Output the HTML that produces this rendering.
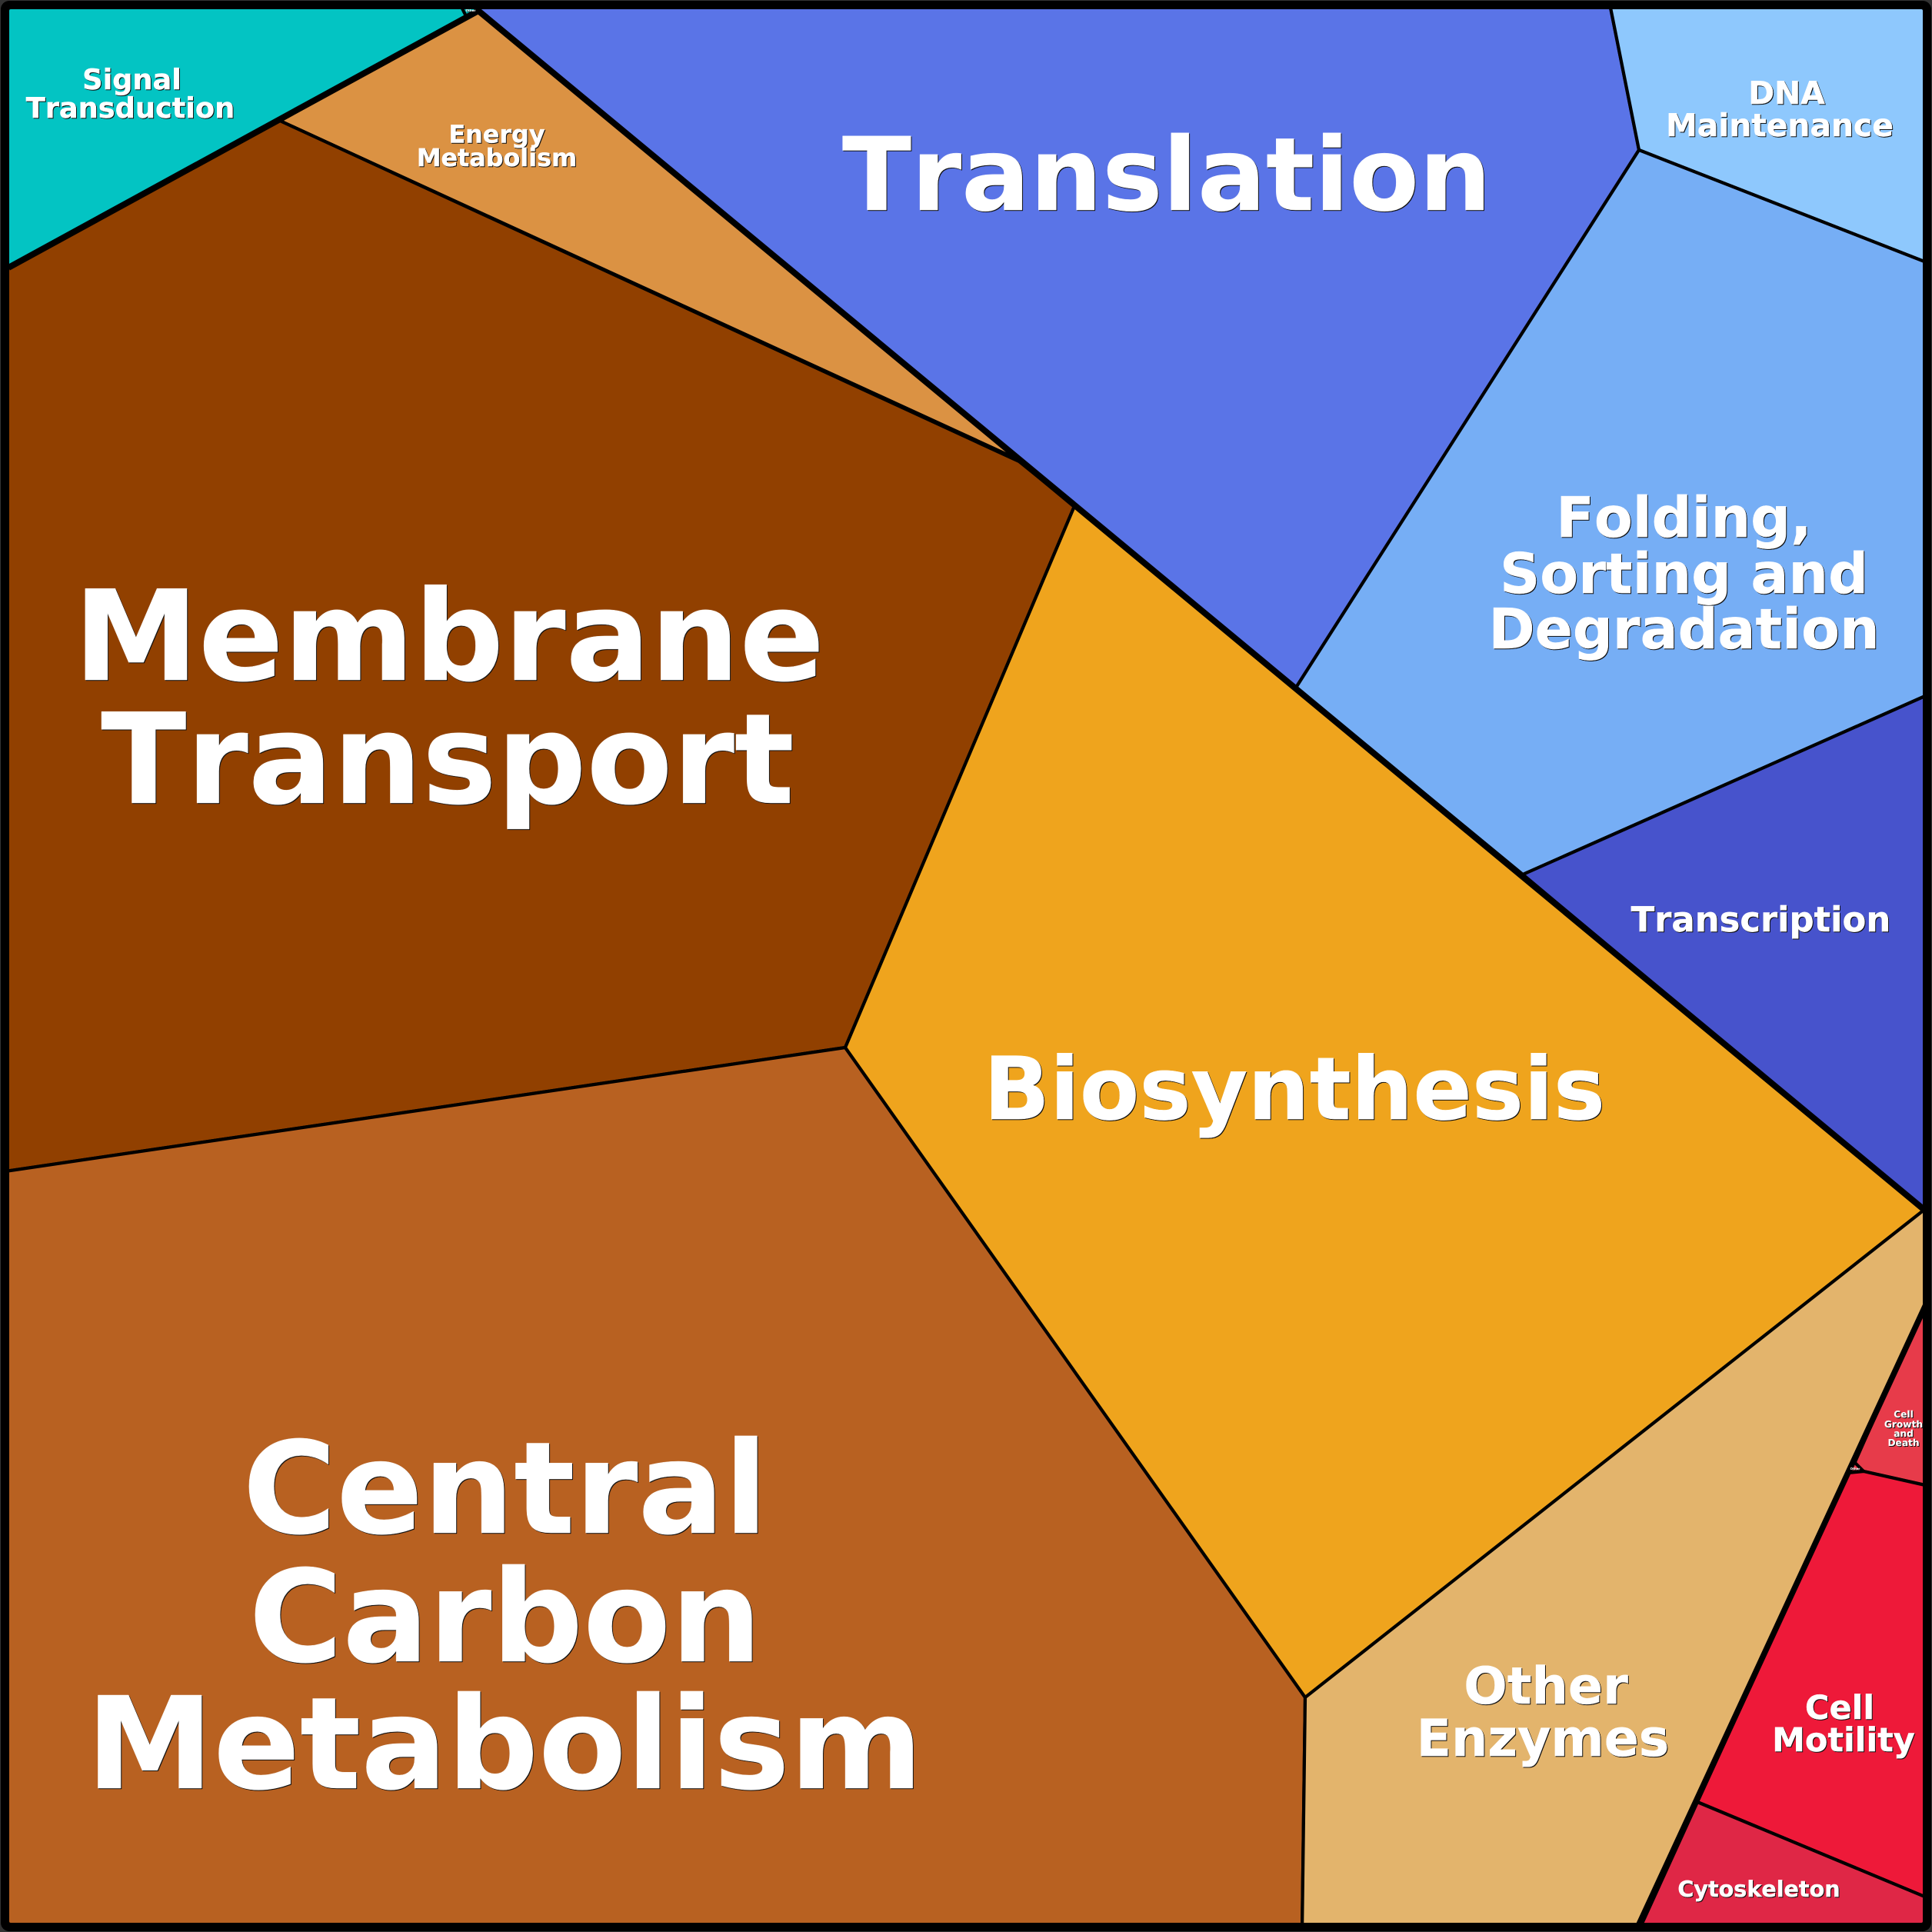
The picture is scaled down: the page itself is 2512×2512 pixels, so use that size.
<!DOCTYPE html>
<html><head><meta charset="utf-8"><style>
html,body{margin:0;padding:0;background:#333}
svg{display:block}
text{font-family:"DejaVu Sans","Liberation Sans",sans-serif;font-weight:bold;fill:#fff;text-anchor:middle;font-kerning:none;text-rendering:geometricPrecision;stroke:#fff;stroke-width:.4}
.t{filter:drop-shadow(1.5px 1.5px 0 #111)}
</style></head><body>
<svg width="2512" height="2512" viewBox="0 0 2512 2512" xmlns="http://www.w3.org/2000/svg">
<defs><clipPath id="c"><rect x="12" y="12" width="2488" height="2488" rx="2"/></clipPath></defs>
<rect width="2512" height="2512" fill="#333"/>
<rect x="1" y="1" width="2510" height="2510" rx="11" fill="#000"/>
<g clip-path="url(#c)">
<g stroke="#000" stroke-width="4.2" stroke-linejoin="miter">
<polygon fill="#03C4C3" points="0,0 622,0 622,14 11,348 0,354"/>
<polygon fill="#DB9243" points="364,157 622,14 1325,598"/>
<polygon fill="#914000" points="0,352 364,157 1325,600 1397,658 1099,1362 0,1524"/>
<polygon fill="#B86121" points="0,1524 1099,1362 1697,2207 1693,2512 0,2512"/>
<polygon fill="#EFA41D" points="1397,658 2502,1573 1697,2207 1099,1362"/>
<polygon fill="#E3B46C" points="2512,1565 1697,2207 1693,2512 2130,2512 2512,1700"/>
<polygon fill="#5A74E7" points="622,14 622,0 2092,0 2131,195 1685,894"/>
<polygon fill="#8EC8FD" points="2092,0 2512,0 2512,344 2131,195"/>
<polygon fill="#76AEF5" points="2131,195 2512,344 2512,901 1980,1137 1685,894"/>
<polygon fill="#4753CC" points="1980,1137 2512,901 2512,1582"/>
<polygon fill="#E73B4A" points="2502,1697 2512,1697 2512,1933 2423,1913 2411,1903"/>
<polygon fill="#E73B4A" points="2411,1901 2423,1913 2403,1915"/>
<polygon fill="#EE1939" points="2403,1915 2423,1913 2512,1933 2512,2470 2207,2343"/>
<polygon fill="#DF2746" points="2207,2343 2512,2470 2512,2512 2130,2512"/>
<line x1="600" y1="9" x2="606" y2="21"/>
</g>
<g stroke="#000" stroke-width="8" fill="none">
<line x1="11" y1="348" x2="622" y2="14"/>
<line x1="622" y1="14" x2="2502" y2="1573"/>
</g>
<line x1="2130" y1="2504" x2="2506" y2="1692" stroke="#000" stroke-width="7.5"/>
</g>
<g class="t">
<text font-size="4" x="612" y="15" fill="#ccc" style="stroke-width:0">Other</text>
<text font-size="4" x="2412" y="1911" style="stroke-width:0">Other</text>
<text font-size="132" x="1517" y="273">Translation</text>
<text font-size="163" x="584" y="884">Membrane</text>
<text font-size="163" x="582" y="1044">Transport</text>
<text font-size="166" x="657" y="1993">Central</text>
<text font-size="166" x="657" y="2160">Carbon</text>
<text font-size="166" x="656" y="2325">Metabolism</text>
<text font-size="113" x="1683" y="1455">Biosynthesis</text>
<text font-size="72.6" x="2189.5" y="698">Folding,</text>
<text font-size="72.6" x="2189.5" y="771">Sorting and</text>
<text font-size="72.6" x="2189.5" y="843">Degradation</text>
<text font-size="44.9" x="2289.5" y="1211">Transcription</text>
<text font-size="40.8" x="2323" y="135">DNA</text>
<text font-size="40.8" x="2314" y="177">Maintenance</text>
<text font-size="36.7" x="171.5" y="116">Signal</text>
<text font-size="36.7" x="169.5" y="153">Transduction</text>
<text font-size="31.8" x="646" y="185.5">Energy</text>
<text font-size="31.8" x="646" y="216">Metabolism</text>
<text font-size="66.5" x="2010" y="2215">Other</text>
<text font-size="66.5" x="2006" y="2283">Enzymes</text>
<text font-size="43" x="2392" y="2235">Cell</text>
<text font-size="43" x="2397" y="2277">Motility</text>
<text font-size="28.6" x="2287" y="2466">Cytoskeleton</text>
<text font-size="12.2" x="2475" y="1843" style="stroke-width:.1">Cell</text>
<text font-size="12.2" x="2475" y="1856" style="stroke-width:.1">Growth</text>
<text font-size="12.2" x="2475" y="1868" style="stroke-width:.1">and</text>
<text font-size="12.2" x="2475" y="1880" style="stroke-width:.1">Death</text>
</g>
</svg>
</body></html>
